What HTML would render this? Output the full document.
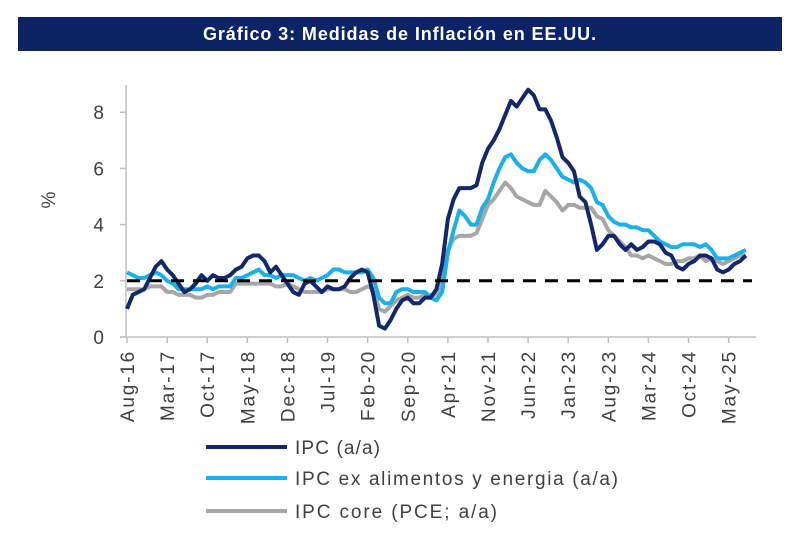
<!DOCTYPE html>
<html><head><meta charset="utf-8"><style>
body{margin:0;background:#fff;width:800px;height:539px;overflow:hidden;font-family:"Liberation Sans",sans-serif}
#hdr{position:absolute;left:18px;top:17px;width:764px;height:34px;background:#0d2464;color:#fff;font-weight:bold;font-size:18px;letter-spacing:0.9px;line-height:34px;text-align:center}
svg{position:absolute;left:0;top:0}
</style></head><body>
<div id="hdr">Gráfico 3: Medidas de Inflación en EE.UU.</div>
<svg id="chart" width="800" height="539"></svg>
<script>
const startYear=2016, startMonth=7; // Aug-16
const tickLabels=["Aug-16","Mar-17","Oct-17","May-18","Dec-18","Jul-19","Feb-20","Sep-20","Apr-21","Nov-21","Jun-22","Jan-23","Aug-23","Mar-24","Oct-24","May-25"];
const yTicks=[0,2,4,6,8];
const target=2;
const ipc=[1.0,1.5,1.6,1.7,2.1,
2.5,2.7,2.4,2.2,1.9,1.6,1.7,1.9,2.2,2.0,2.2,2.1,
2.1,2.2,2.4,2.5,2.8,2.9,2.9,2.7,2.3,2.5,2.2,1.9,
1.6,1.5,1.9,2.0,1.8,1.6,1.8,1.7,1.7,1.8,2.1,2.3,
2.4,2.3,1.5,0.4,0.3,0.6,1.0,1.3,1.4,1.2,1.2,1.4,
1.4,1.7,2.6,4.2,4.9,5.3,5.3,5.3,5.4,6.2,6.7,7.0,
7.4,7.9,8.4,8.2,8.5,8.8,8.6,8.1,8.1,7.7,7.1,6.4,
6.2,5.9,5.0,4.8,4.0,3.1,3.3,3.6,3.6,3.3,3.1,3.3,
3.1,3.2,3.4,3.4,3.3,3.0,2.9,2.5,2.4,2.6,2.7,2.9,
2.9,2.8,2.4,2.3,2.4,2.6,2.7,2.9];
const core=[2.3,2.2,2.1,2.1,2.2,
2.3,2.2,2.0,1.9,1.7,1.7,1.7,1.7,1.7,1.8,1.7,1.8,
1.8,1.8,2.1,2.1,2.2,2.3,2.4,2.2,2.2,2.1,2.2,2.2,
2.2,2.1,2.0,2.1,2.0,2.1,2.2,2.4,2.4,2.3,2.3,2.3,
2.3,2.4,2.1,1.4,1.2,1.2,1.6,1.7,1.7,1.6,1.6,1.6,
1.4,1.3,1.6,3.0,3.8,4.5,4.3,4.0,4.0,4.6,4.9,5.5,
6.0,6.4,6.5,6.2,6.0,5.9,5.9,6.3,6.5,6.3,6.0,5.7,
5.6,5.5,5.6,5.5,5.3,4.8,4.7,4.3,4.1,4.0,4.0,3.9,
3.9,3.8,3.8,3.6,3.4,3.3,3.2,3.2,3.3,3.3,3.3,3.2,
3.3,3.1,2.8,2.8,2.8,2.9,3.0,3.1];
const pce=[1.7,1.7,1.7,1.7,1.8,
1.8,1.8,1.6,1.6,1.5,1.5,1.5,1.4,1.4,1.5,1.5,1.6,
1.6,1.6,1.9,1.9,1.9,1.9,1.9,1.9,1.9,1.8,1.8,1.9,
1.8,1.7,1.6,1.6,1.6,1.6,1.7,1.7,1.7,1.7,1.6,1.6,
1.7,1.8,1.7,1.0,0.9,1.1,1.3,1.4,1.5,1.4,1.4,1.5,
1.5,1.5,2.0,3.1,3.5,3.6,3.6,3.6,3.7,4.2,4.7,4.9,
5.2,5.5,5.3,5.0,4.9,4.8,4.7,4.7,5.2,5.0,4.8,4.5,
4.7,4.7,4.6,4.6,4.6,4.3,4.2,3.8,3.6,3.4,3.2,2.9,
2.9,2.8,2.9,2.8,2.7,2.6,2.6,2.7,2.7,2.8,2.8,2.9,
2.7,2.8,2.7,2.6,2.7,2.8,2.9,2.9];
const X0=127, PXM=5.73, Y0=337, PXU=28.1;
const xs=i=>X0+i*PXM, ys=v=>Y0-v*PXU;
const NS="http://www.w3.org/2000/svg", svg=document.getElementById('chart');
function mk(t,a,p){const e=document.createElementNS(NS,t);for(const k in a)e.setAttribute(k,a[k]);(p||svg).appendChild(e);return e;}
const ya=mk('line',{x1:126,y1:85,x2:126,y2:Y0,stroke:'#bfbfbf','stroke-width':1.5});


const xa=mk('line',{x1:120,y1:Y0,x2:756,y2:Y0,stroke:'#bfbfbf','stroke-width':1.5});


yTicks.forEach(v=>{
 mk('line',{x1:120,y1:ys(v),x2:126,y2:ys(v),stroke:'#bfbfbf','stroke-width':1.5});
 const t=mk('text',{x:104,y:ys(v)+7,'text-anchor':'end','font-size':19,fill:'#404040'});t.textContent=v;
 
 
});
const yt=mk('text',{x:0,y:0,transform:'translate(55,200) rotate(-90)','text-anchor':'middle','font-size':19,fill:'#404040'});yt.textContent='%';


tickLabels.forEach((l,k)=>{
 const x=xs(k*7);
 mk('line',{x1:x,y1:Y0,x2:x,y2:Y0+6,stroke:'#bfbfbf','stroke-width':1.5});
 const t=mk('text',{x:0,y:0,transform:`translate(${x+7},350) rotate(-90)`,'text-anchor':'end','font-size':19,'letter-spacing':1.8,fill:'#404040'});t.textContent=l;
 
 
});
function line(d,c,name){
 const p=mk('polyline',{points:d.map((v,i)=>xs(i)+','+ys(v)).join(' '),fill:'none',stroke:c,'stroke-width':4,'stroke-linejoin':'round'});
 
 
}
line(pce,'#a6a6a6','series-pce-core');
line(core,'#1ab0e8','series-ipc-ex-alimentos');
line(ipc,'#13286b','series-ipc');
const tl=mk('line',{x1:127,y1:ys(target),x2:752,y2:ys(target),stroke:'#000','stroke-width':3,'stroke-dasharray':'13 9'});


const leg=[['IPC (a/a)','#13286b',447,85],['IPC ex alimentos y energia (a/a)','#1ab0e8',478,323],['IPC core (PCE; a/a)','#a6a6a6',511,202]];
leg.forEach(([txt,c,y,w])=>{
 const g=mk('g',{});
 
 
 mk('line',{x1:206,y1:y,x2:287,y2:y,stroke:c,'stroke-width':4},g);
 const t=mk('text',{x:295,y:y+7,'font-size':19,fill:'#404040',textLength:w,lengthAdjust:'spacing'},g);t.textContent=txt;
});
</script>
</body></html>
